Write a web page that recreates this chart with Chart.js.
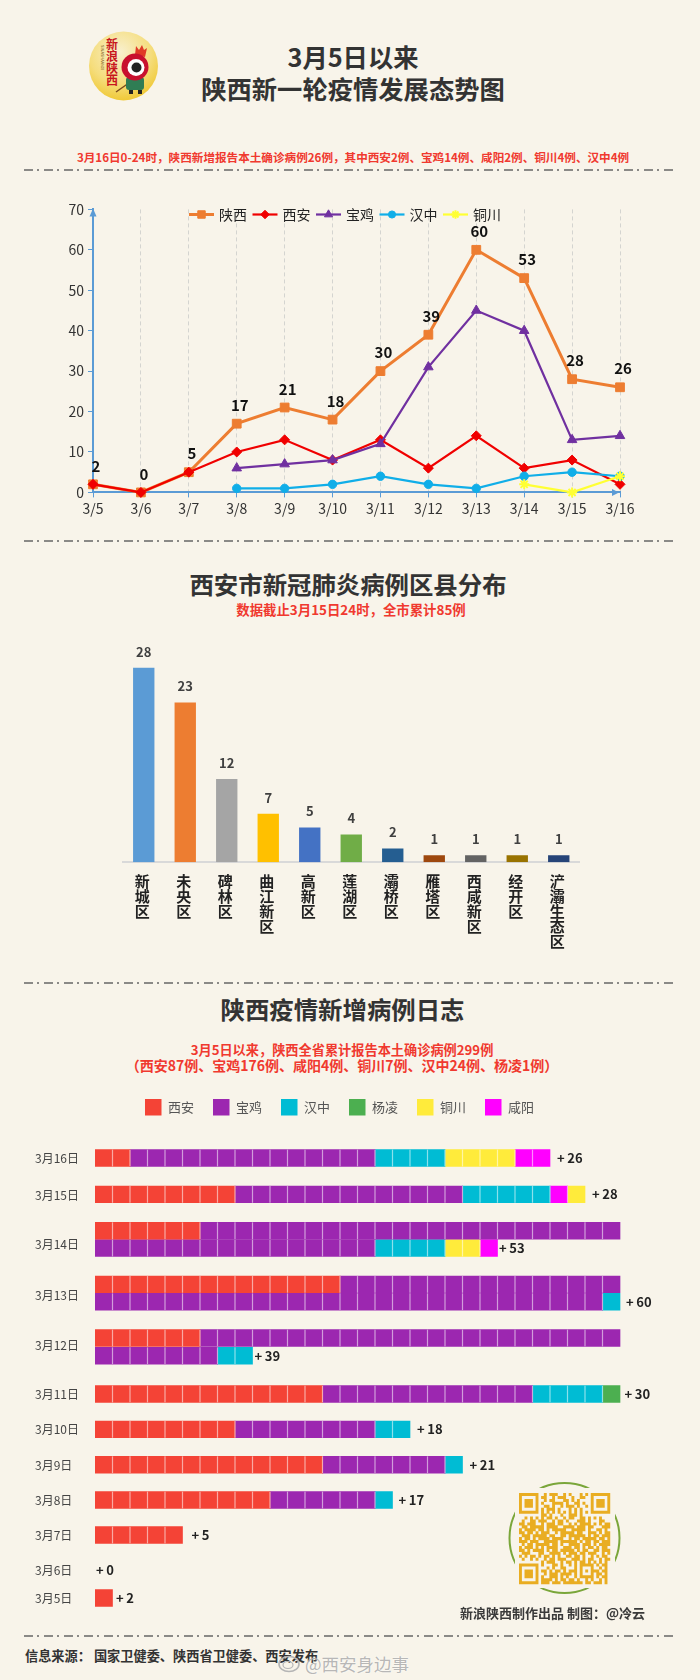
<!DOCTYPE html>
<html lang="zh">
<head>
<meta charset="utf-8">
<title>陕西新一轮疫情发展态势图</title>
<script src="https://cdn.jsdelivr.net/npm/chart.js@4"></script>
<style>
html, body { margin: 0; padding: 0; background: #f8f4ea; }
body { position: relative; width: 700px; height: 1680px; overflow: hidden; font-family: "Noto Sans CJK SC", sans-serif; }
canvas, svg { position: absolute; }
.t { position: absolute; transform: translate(-50%, -50%); white-space: nowrap; font-weight: bold; }
.title { font-size: 24.4px; color: #333; }
.red { color: #f0392f; }
.foot { color: #3a3a3a; }
</style>
</head>
<body>

<!-- logo -->
<svg style="left:85px;top:28px" width="78" height="78" viewBox="85 28 78 78">
  <defs>
    <radialGradient id="gold" cx="45%" cy="30%" r="75%">
      <stop offset="0" stop-color="#f8f0cf"/>
      <stop offset="0.6" stop-color="#f5dd7c"/>
      <stop offset="1" stop-color="#efc52a"/>
    </radialGradient>
  </defs>
  <circle cx="123.5" cy="66" r="34.5" fill="url(#gold)"/>
  <path d="M116 92 L136 78" stroke="#7a4a1c" stroke-width="1.5"/>
  <rect x="126" y="77" width="18" height="13" rx="3" fill="#2f7d54"/>
  <rect x="129" y="90" width="4" height="4" fill="#222"/>
  <rect x="138" y="90" width="4" height="4" fill="#222"/>
  <path d="M135 55 L136 46 L139 50 L142 45 L144 50 L147 48 L145 57 Z" fill="#e03a26"/>
  <circle cx="135" cy="67" r="13.5" fill="#c8102e"/>
  <circle cx="136" cy="67.5" r="8.5" fill="#fff"/>
  <circle cx="136.5" cy="67.5" r="5" fill="#222"/>
  <text x="112" y="49" text-anchor="middle" font-size="12" font-weight="bold" fill="#c8161d">新</text>
  <text x="112" y="61" text-anchor="middle" font-size="12" font-weight="bold" fill="#c8161d">浪</text>
  <text x="112" y="73" text-anchor="middle" font-size="12" font-weight="bold" fill="#c8161d">陕</text>
  <text x="112" y="85" text-anchor="middle" font-size="12" font-weight="bold" fill="#c8161d">西</text>
  <text transform="translate(101,45) rotate(90)" font-size="4" fill="#7a5a20">SINASHAANXI</text>
</svg>

<div class="t title" style="left:353px;top:56px;font-size:25.3px">3月5日以来</div>
<div class="t title" style="left:353px;top:88px;font-size:25.3px">陕西新一轮疫情发展态势图</div>
<div class="t red" style="left:353px;top:157px;font-size:11.6px">3月16日0-24时，陕西新增报告本土确诊病例26例，其中西安2例、宝鸡14例、咸阳2例、铜川4例、汉中4例</div>

<div class="t title" style="left:348px;top:583px">西安市新冠肺炎病例区县分布</div>
<div class="t red" style="left:351px;top:608.5px;font-size:13.4px">数据截止3月15日24时，全市累计85例</div>

<div class="t title" style="left:342.5px;top:1008px">陕西疫情新增病例日志</div>
<div class="t red" style="left:342px;top:1048.5px;font-size:13.2px">3月5日以来，陕西全省累计报告本土确诊病例299例</div>
<div class="t red" style="left:342px;top:1064.5px;font-size:14px">（西安87例、宝鸡176例、咸阳4例、铜川7例、汉中24例、杨凌1例）</div>

<!-- dash-dot separators -->
<svg style="left:0;top:0" width="700" height="1680">
  <g stroke="#666" stroke-width="1.4" stroke-dasharray="9 4 2 5">
    <line x1="24" y1="170" x2="676" y2="170"/>
    <line x1="24" y1="541" x2="676" y2="541"/>
    <line x1="24" y1="983" x2="676" y2="983"/>
    <line x1="24" y1="1636" x2="676" y2="1636"/>
  </g>
</svg>

<canvas id="trendChart" width="700" height="340" style="left:0;top:190px"></canvas>
<canvas id="districtChart" width="700" height="325" style="left:0;top:625px"></canvas>
<canvas id="logChart" width="744" height="541" style="left:0;top:1080.3px"></canvas>

<!-- QR code -->
<svg id="qr" style="left:505px;top:1478px" width="120" height="120" viewBox="505 1478 120 120">
  <circle cx="564.5" cy="1538" r="55" fill="none" stroke="#7aa63a" stroke-width="2"/>
  <rect x="515" y="1488" width="100" height="100" fill="#f8f4ea"/>
</svg>

<div class="t foot" style="left:460px;top:1612px;transform:translateY(-50%);font-size:13px">新浪陕西制作出品 制图：@冷云</div>
<div class="t foot" style="left:25px;top:1655px;transform:translateY(-50%);font-size:13.2px;color:#333">信息来源： 国家卫健委、陕西省卫健委、西安发布</div>

<!-- watermark -->
<svg style="left:278px;top:1652px" width="24" height="22" viewBox="0 0 24 22">
  <ellipse cx="11" cy="12" rx="10" ry="7.5" fill="none" stroke="#b5b5b5" stroke-width="1.6"/>
  <ellipse cx="10" cy="13" rx="5" ry="3.5" fill="none" stroke="#b5b5b5" stroke-width="1.2"/>
</svg>
<div class="t" style="left:305px;top:1663px;transform:translateY(-50%);font-size:17.5px;font-weight:normal;color:rgba(165,165,165,.8);text-shadow:0 0 2px #fff">@西安身边事</div>

<script>
// ===== LINE CHART DATA =====
var trendDates = ['3/5', '3/6', '3/7', '3/8', '3/9', '3/10', '3/11', '3/12', '3/13', '3/14', '3/15', '3/16'];
var shaanxiDaily = [2, 0, 5, 17, 21, 18, 30, 39, 60, 53, 28, 26];
var xianDaily = [2, 0, 5, 10, 13, 8, 13, 6, 14, 6, 8, 2];
var baojiDaily = [null, null, null, 6, 7, 8, 12, 31, 45, 40, 13, 14];
var hanzhongDaily = [null, null, null, 1, 1, 2, 4, 2, 1, 4, 5, 4];
var tongchuanDaily = [null, null, null, null, null, null, null, null, null, 2, 0, 4];
var trendTicks = [0, 10, 20, 30, 40, 50, 60, 70];

// ===== BAR CHART DATA =====
var districts = ['新城区', '未央区', '碑林区', '曲江新区', '高新区', '莲湖区', '灞桥区', '雁塔区', '西咸新区', '经开区', '浐灞生态区'];
var districtCases = [28, 23, 12, 7, 5, 4, 2, 1, 1, 1, 1];
var districtColors = ['#5b9bd5', '#ed7d31', '#a5a5a5', '#ffc000', '#4472c4', '#70ad47', '#255e91', '#9e480e', '#636363', '#997300', '#264478'];

// ===== CASE LOG DATA (one entry per drawn row, long days wrap to two rows) =====
var logDays = ['3月16日', '3月15日', '3月14日', '3月13日', '3月12日', '3月11日', '3月10日', '3月9日', '3月8日', '3月7日', '3月6日', '3月5日'];
var logTotals = [26, 28, 53, 60, 39, 30, 18, 21, 17, 5, 0, 2];
var logLastRow = [0, 1, 3, 5, 7, 8, 9, 10, 11, 12, 13, 14];
var logXian = [2, 8, 6, 0, 14, 0, 6, 0, 13, 8, 13, 10, 5, 0, 1]; // the picture shows one cell beside +2 on 3/5
var logBaoji = [14, 13, 24, 16, 16, 29, 24, 7, 12, 8, 7, 6, 0, 0, 0];
var logHanzhong = [4, 5, 0, 4, 0, 1, 0, 2, 4, 2, 1, 1, 0, 0, 0];
var logYangling = [0, 0, 0, 0, 0, 0, 0, 0, 1, 0, 0, 0, 0, 0, 0];
var logXianyangFirst = [0, 1, 0, 0, 0, 0, 0, 0, 0, 0, 0, 0, 0, 0, 0]; // 3/15 has xianyang before tongchuan
var logTongchuan = [4, 1, 0, 2, 0, 0, 0, 0, 0, 0, 0, 0, 0, 0, 0];
var logXianyang = [2, 0, 0, 1, 0, 0, 0, 0, 0, 0, 0, 0, 0, 0, 0];

// ===== QR PATTERN =====
var qrRows = [
    '#######..#.###..#.#...#.#.#######',
    '#.....#.##..#.###..#..##..#.....#',
    '#.###.#..#.##...##.#.#....#.###.#',
    '#.###.#.#...####.#..##.#..#.###.#',
    '#.###.#..##.#..#.###.#..#.#.###.#',
    '#.....#.#.###.#...#.#.#...#.....#',
    '#######.#.#.#.#.#.#.#.#.#.#######',
    '........##.#...#..###.#..........',
    '..#.#.#.#.##.#..#.##..##.#.#.#...',
    '.#..##.###..#.##.#...###.#...##..',
    '##.###..#.###.##..#.#.####.#.#.##',
    '.##.#####.####..####.###.##...###',
    '#.####.##.#.#####..#####.#..##.#.',
    '##.##.#.###..#.#####.##..###.#.##',
    '.###.#####.##..##.######.#.##.###',
    '#.##.#.####.####..#.##.#####.##.#',
    '###.###..#####.######.#.##.##.###',
    '.#.##.#####.##.#..####.###.#.####',
    '#.###.#.#.####..###.##.#.##.#.##.',
    '##.#.####.#.##.#####.#.##..##.###',
    '.###...##..####.#.###.##.###..#.#',
    '#.#.##.#.##.#.#..##.##.#..#.#.##.',
    '.#..#.#..#.##.###..###.#.##..#.##',
    '........#.###..#.##.#.##.#.#.#.#.',
    '#######.#...##.#..#.#.#####.#.##.',
    '#.....#...#.#..##...#.#...#..#.#.',
    '#.###.#.##.#.##.#.###.#.#.###.##.',
    '#.###.#..#.###.####.#.#...#.##.#.',
    '#.###.#.#..###.#.#..#.#####.#.##.',
    '#.....#.####.#.##.##.#..#.#..#.#.',
    '#######.###.###.#######.##.###.#.'
];

Chart.defaults.font.family = '"Noto Sans CJK SC", sans-serif';
Chart.defaults.animation = false;
Chart.defaults.responsive = false;
Chart.defaults.plugins.legend.display = false;
Chart.defaults.plugins.tooltip.enabled = false;

// ===== LINE CHART =====
var axisBlue = '#5b9bd5';

var trendDecor = {
    id: 'trendDecor',
    afterDraw: function(chart) {
        var ctx = chart.ctx;
        var area = chart.chartArea;
        ctx.save();

        // axis arrow heads
        ctx.fillStyle = axisBlue;
        ctx.beginPath();
        ctx.moveTo(area.left, area.top - 1);
        ctx.lineTo(area.left - 3.5, area.top + 7);
        ctx.lineTo(area.left + 3.5, area.top + 7);
        ctx.fill();
        ctx.beginPath();
        ctx.moveTo(area.right - 1, area.bottom);
        ctx.lineTo(area.right - 8, area.bottom - 3.5);
        ctx.lineTo(area.right - 8, area.bottom + 3.5);
        ctx.fill();

        // totals above the shaanxi line
        var meta = chart.getDatasetMeta(0);
        ctx.fillStyle = '#111';
        ctx.font = 'bold 15px "Noto Sans CJK SC"';
        ctx.textAlign = 'center';
        ctx.textBaseline = 'middle';
        shaanxiDaily.forEach(function(v, i) {
            ctx.fillText(String(v), meta.data[i].x + 3, meta.data[i].y - 18.5);
        });

        // legend sits inside the plot, so it is drawn here
        var legendX = 189;
        var legendY = 24.5;
        chart.data.datasets.forEach(function(ds) {
            ctx.strokeStyle = ds.borderColor;
            ctx.lineWidth = ds.borderWidth;
            ctx.beginPath();
            ctx.moveTo(legendX, legendY);
            ctx.lineTo(legendX + 25, legendY);
            ctx.stroke();
            ctx.fillStyle = ds.pointBackgroundColor;
            ctx.strokeStyle = ds.pointBorderColor;
            ctx.lineWidth = ds.pointBorderWidth;
            Chart.helpers.drawPoint(ctx, { pointStyle: ds.pointStyle, radius: ds.pointRadius * 0.85, borderWidth: ds.pointBorderWidth }, legendX + 12.5, legendY);
            ctx.fillStyle = '#222';
            ctx.font = '14px "Noto Sans CJK SC"';
            ctx.textAlign = 'left';
            ctx.fillText(ds.label, legendX + 30, legendY);
            legendX += 63.5;
        });
        ctx.restore();
    }
};

function lineSet(label, data, color, width, style, radius, order) {
    return {
        label: label,
        data: data,
        borderColor: color,
        borderWidth: width,
        pointStyle: style,
        pointRadius: radius,
        pointBackgroundColor: color,
        pointBorderColor: color,
        pointBorderWidth: style === 'star' ? 2 : 1,
        tension: 0,
        spanGaps: false,
        clip: false,
        order: order
    };
}

new Chart(document.getElementById('trendChart'), {
    type: 'line',
    data: {
        labels: trendDates,
        datasets: [
            lineSet('陕西', shaanxiDaily, '#ed7d31', 3, 'rect', 6.2, 5),
            lineSet('西安', xianDaily, '#f00000', 2.2, 'rectRot', 5, 4),
            lineSet('宝鸡', baojiDaily, '#7030a0', 2.2, 'triangle', 5.5, 3),
            lineSet('汉中', hanzhongDaily, '#10aee8', 2.2, 'circle', 4.2, 2),
            lineSet('铜川', tongchuanDaily, '#ffff33', 2.2, 'star', 5, 1)
        ]
    },
    options: {
        layout: { padding: { top: 19.4, right: 80, left: 0, bottom: 0 } },
        scales: {
            x: {
                offset: false,
                grid: { color: '#d4d4d0', tickColor: axisBlue, tickLength: 5 },
                border: { color: axisBlue, width: 2, dash: [4, 3] },
                ticks: { color: '#333', font: { size: 14 }, padding: 3, autoSkip: false, maxRotation: 0 },
                afterFit: function(scale) { scale.height = 37.6; }
            },
            y: {
                min: 0,
                max: 70,
                afterBuildTicks: function(scale) {
                    scale.ticks = trendTicks.map(function(v) { return { value: v }; });
                },
                grid: { drawOnChartArea: false, tickColor: axisBlue, tickLength: 5 },
                border: { color: axisBlue, width: 2 },
                ticks: { color: '#333', font: { size: 14 }, padding: 4 },
                afterFit: function(scale) { scale.width = 93; }
            }
        }
    },
    plugins: [trendDecor]
});

// ===== BAR CHART =====
var barValues = {
    id: 'barValues',
    afterDatasetsDraw: function(chart) {
        var ctx = chart.ctx;
        var meta = chart.getDatasetMeta(0);
        ctx.save();
        ctx.fillStyle = '#404040';
        ctx.font = 'bold 13px "Noto Sans CJK SC"';
        ctx.textAlign = 'center';
        ctx.textBaseline = 'middle';
        districtCases.forEach(function(v, i) {
            ctx.fillText(String(v), meta.data[i].x, meta.data[i].y - 16);
        });
        ctx.restore();
    }
};

new Chart(document.getElementById('districtChart'), {
    type: 'bar',
    data: {
        labels: districts,
        datasets: [{
            data: districtCases,
            backgroundColor: districtColors,
            categoryPercentage: 1,
            barPercentage: 0.515
        }]
    },
    options: {
        layout: { padding: { top: 28.8, left: 123, right: 120.5, bottom: 0 } },
        scales: {
            x: {
                grid: { display: false, drawTicks: false },
                border: { color: '#d9d9d9', width: 2 },
                ticks: {
                    color: '#222',
                    font: { size: 15, weight: 'bold', lineHeight: 1 },
                    padding: 11,
                    labelOffset: -1.5,
                    autoSkip: false,
                    maxRotation: 0,
                    callback: function(value) {
                        // stacked vertical text, one character per line
                        return Array.from(districts[value]);
                    }
                },
                afterFit: function(scale) { scale.height = 87.7; }
            },
            y: { display: false, min: 0, max: 30 }
        }
    },
    plugins: [barValues]
});

// ===== CASE LOG =====
// page y of each row and of each date label; the y scale runs in page pixels
var rowCenters = [1158.3, 1194.7, 1231, 1248.3, 1284.7, 1302, 1338.3, 1356, 1394.3, 1429.7, 1465, 1500.3, 1535.3, 1570.7, 1598.3];
var dayCenters = [1159, 1195.3, 1244.3, 1295.3, 1346, 1395, 1430, 1465.3, 1500.7, 1535.7, 1570.7, 1598.7];
var totalGaps = [7, 7, 1.5, 6, 2, 4.5, 7, 7, 6, 9, 1, 3.5];
var cellWidth = 17.5;
var logCanvasTop = 1080.3;

var logSeries = [logXian, logBaoji, logHanzhong, logYangling, logXianyangFirst, logTongchuan, logXianyang];

function rowSize(i) {
    return logSeries.reduce(function(sum, s) { return sum + s[i]; }, 0);
}

var logDecor = {
    id: 'logDecor',
    afterDatasetsDraw: function(chart) {
        var ctx = chart.ctx;
        var xs = chart.scales.x;
        var ys = chart.scales.y;
        ctx.save();

        // split every bar into one cell per case
        ctx.strokeStyle = 'rgba(255,255,255,0.55)';
        ctx.lineWidth = 1.2;
        rowCenters.forEach(function(center, i) {
            var y = ys.getPixelForValue(center);
            for (var n = 1; n < rowSize(i); n++) {
                var x = xs.getPixelForValue(n);
                ctx.beginPath();
                ctx.moveTo(x, y - 8.35);
                ctx.lineTo(x, y + 8.35);
                ctx.stroke();
            }
        });

        ctx.fillStyle = '#222';
        ctx.font = 'bold 13px "Noto Sans CJK SC"';
        ctx.textAlign = 'left';
        ctx.textBaseline = 'middle';
        logTotals.forEach(function(total, d) {
            var row = logLastRow[d];
            var x = xs.getPixelForValue(rowSize(row)) + totalGaps[d];
            ctx.fillText('+\u2009' + total, x, ys.getPixelForValue(rowCenters[row]));
        });
        ctx.restore();
    }
};

function logSet(label, counts, color) {
    var points = [];
    counts.forEach(function(c, i) {
        if (c > 0) points.push({ x: c, y: rowCenters[i] });
    });
    return {
        label: label,
        data: points,
        backgroundColor: color,
        barThickness: 16.7
    };
}

var logChart = new Chart(document.getElementById('logChart'), {
    type: 'bar',
    data: {
        datasets: [
            logSet('西安', logXian, '#f44336'),
            logSet('宝鸡', logBaoji, '#9c27b0'),
            logSet('汉中', logHanzhong, '#00bcd4'),
            logSet('杨凌', logYangling, '#4caf50'),
            logSet('咸阳 ', logXianyangFirst, '#ff00ff'),
            logSet('铜川', logTongchuan, '#ffeb3b'),
            logSet('咸阳', logXianyang, '#ff00ff')
        ]
    },
    options: {
        indexAxis: 'y',
        layout: { padding: { left: 35, right: 100, top: 0, bottom: 0 } },
        plugins: {
            legend: {
                display: true,
                position: 'top',
                labels: {
                    boxWidth: 16.5,
                    boxHeight: 16.5,
                    padding: 19,
                    color: '#555',
                    font: { size: 13 },
                    filter: function(item) { return item.text !== '咸阳 '; }
                }
            }
        },
        scales: {
            x: { display: false, stacked: true, min: 0, max: 549 / cellWidth },
            y: {
                type: 'linear',
                offset: false,
                stacked: true,
                reverse: true,
                min: 1130,
                max: 1620,
                afterBuildTicks: function(scale) {
                    scale.ticks = dayCenters.map(function(v) { return { value: v }; });
                },
                grid: { display: false, drawTicks: false },
                border: { display: false },
                ticks: {
                    color: '#444',
                    font: { size: 12 },
                    crossAlign: 'far',
                    autoSkip: false,
                    padding: 0,
                    callback: function(value, index) { return logDays[index]; }
                },
                afterFit: function(scale) { scale.width = 60; }
            }
        }
    },
    plugins: [logDecor]
});

// line the y scale up with page pixels now the plot area is known
logChart.options.scales.y.min = logCanvasTop + logChart.chartArea.top;
logChart.options.scales.y.max = logCanvasTop + logChart.chartArea.bottom;
logChart.update();

// ===== QR =====
var qr = document.getElementById('qr');
var qrPath = '';
qrRows.forEach(function(row, r) {
    row.split('').forEach(function(c, col) {
        if (c === '#') {
            qrPath += 'M' + (519 + col * 2.76) + ' ' + (1493 + r * 2.94) + 'h2.9v3.05h-2.9z';
        }
    });
});
var pathEl = document.createElementNS('http://www.w3.org/2000/svg', 'path');
pathEl.setAttribute('d', qrPath);
pathEl.setAttribute('fill', '#e9ad22');
qr.appendChild(pathEl);
</script>
</body>
</html>
